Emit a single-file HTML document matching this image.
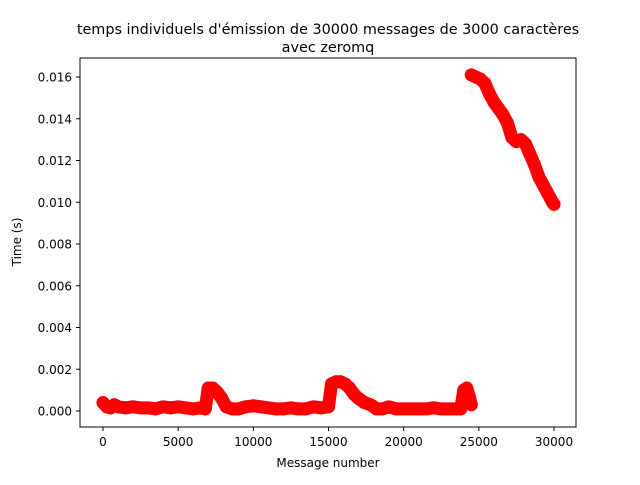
<!DOCTYPE html>
<html><head><meta charset="utf-8"><style>
body{margin:0;background:#fff;}
svg text{font-family:"DejaVu Sans","Liberation Sans",sans-serif;fill:#000;}
</style></head><body>
<svg id="chart" width="640" height="480" xmlns="http://www.w3.org/2000/svg">
<text x="328" y="34" font-size="14.4" text-anchor="middle">temps individuels d'émission de 30000 messages de 3000 caractères</text>
<text x="328" y="52" font-size="14.4" text-anchor="middle">avec zeromq</text>
<g id="plot"></g>
<rect x="80" y="58" width="496" height="369" fill="none" stroke="#000" stroke-width="1"/>
<g id="xt"></g>
<g id="yt"></g>
<text x="328" y="467" font-size="12" text-anchor="middle">Message number</text>
<text transform="translate(21,242) rotate(-90)" font-size="12" text-anchor="middle">Time (s)</text>
</svg>
<script>
const msgs = [0,250,500,750,1000,1500,2000,2500,3000,3500,4000,4500,5000,5500,6000,6500,6800,7000,7300,7600,7900,8200,8600,9000,9500,10000,10500,11000,11500,12000,12500,13000,13500,14000,14500,15000,15200,15500,15800,16100,16400,16700,17000,17400,17800,18200,18600,19000,19500,20000,20500,21000,21500,22000,22500,23000,23500,23800,24000,24200,24400,24500];
const times = [0.0004,0.0002,0.00015,0.0003,0.0002,0.00015,0.0002,0.00015,0.00015,0.0001,0.0002,0.00015,0.0002,0.00015,0.0001,0.00015,0.0001,0.0011,0.0011,0.0009,0.0006,0.0002,0.0001,0.0001,0.0002,0.00025,0.0002,0.00015,0.0001,0.0001,0.00015,0.0001,0.0001,0.0002,0.00015,0.0002,0.0013,0.0014,0.0014,0.0013,0.0011,0.0008,0.0006,0.0004,0.0003,0.0001,0.0001,0.0002,0.0001,0.0001,0.0001,0.0001,0.0001,0.00015,0.0001,0.0001,0.0001,0.0001,0.001,0.0011,0.0006,0.0003];
const msgs2 = [24500,24800,25100,25400,25700,26000,26300,26600,26900,27200,27500,27800,28100,28400,28700,29000,29300,29600,29900,30000];
const times2 = [0.0161,0.016,0.0159,0.0157,0.0152,0.0148,0.0145,0.0142,0.0138,0.0131,0.0129,0.013,0.0128,0.0123,0.0118,0.0112,0.0108,0.0104,0.01,0.0099];
const xTicks = [0,5000,10000,15000,20000,25000,30000];
const yTicks = [0,0.002,0.004,0.006,0.008,0.010,0.012,0.014,0.016];
const xs = v => 103 + v*(554-103)/30000;
const ys = v => 411 - v*(411-77)/0.016;
const NS='http://www.w3.org/2000/svg';
const plot=document.getElementById('plot');
function series(mx,ty,name){
  let d=mx.map((m,i)=>xs(m)+','+ys(ty[i])).join(' ');
  const pl=document.createElementNS(NS,'polyline');
  pl.setAttribute('points',d);pl.setAttribute('fill','none');pl.setAttribute('stroke','#ff0000');
  pl.setAttribute('stroke-width','13');pl.setAttribute('stroke-linecap','round');pl.setAttribute('stroke-linejoin','round');
  
  
  plot.appendChild(pl);
  mx.forEach((m,i)=>{
    const c=document.createElementNS(NS,'circle');
    c.setAttribute('cx',xs(m));c.setAttribute('cy',ys(ty[i]));c.setAttribute('r',6.5);c.setAttribute('fill','#ff0000');
    
    
    plot.appendChild(c);
  });
}
series(msgs,times,'low-series');
series(msgs2,times2,'high-series');
const xt=document.getElementById('xt');
xTicks.forEach(t=>{
  const x=xs(t);
  const l=document.createElementNS(NS,'line');
  l.setAttribute('x1',x);l.setAttribute('x2',x);l.setAttribute('y1',427);l.setAttribute('y2',431);l.setAttribute('stroke','#000');
  
  
  xt.appendChild(l);
  const tx=document.createElementNS(NS,'text');
  tx.setAttribute('x',x);tx.setAttribute('y',446);tx.setAttribute('font-size','12');tx.setAttribute('text-anchor','middle');
  tx.textContent=t;
  
  
  xt.appendChild(tx);
});
const yt=document.getElementById('yt');
yTicks.forEach(t=>{
  const y=ys(t);
  const l=document.createElementNS(NS,'line');
  l.setAttribute('x1',76);l.setAttribute('x2',80);l.setAttribute('y1',y);l.setAttribute('y2',y);l.setAttribute('stroke','#000');
  
  
  yt.appendChild(l);
  const tx=document.createElementNS(NS,'text');
  tx.setAttribute('x',72);tx.setAttribute('y',y+4.5);tx.setAttribute('font-size','12');tx.setAttribute('text-anchor','end');
  tx.textContent=t.toFixed(3);
  
  
  yt.appendChild(tx);
});
</script>
</body></html>
